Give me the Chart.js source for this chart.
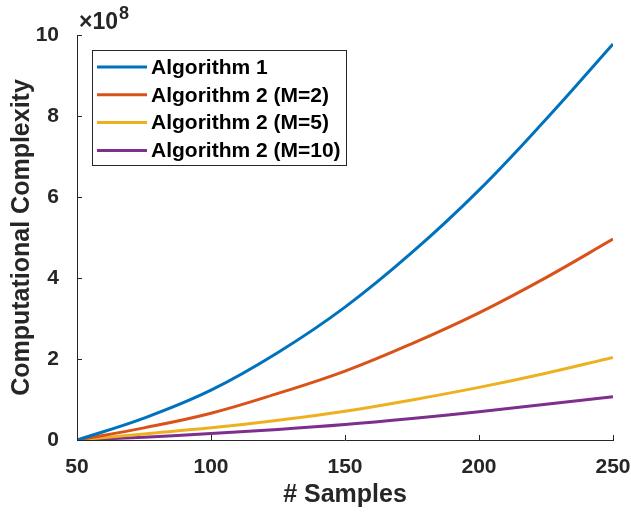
<!DOCTYPE html>
<html>
<head>
<meta charset="utf-8">
<script src="https://cdn.jsdelivr.net/npm/chart.js@4"></script>
<style>
  html, body { margin: 0; padding: 0; background: #fff; }
  #wrap { width: 631px; height: 514px; }
</style>
</head>
<body>
<div id="wrap"><canvas id="myChart"></canvas></div>
<script>
// Data (values in units of 1e8)
const samples = [50, 75, 100, 125, 150, 175, 200, 225, 250];
const alg1 = [0, 0.54, 1.23, 2.16, 3.28, 4.63, 6.17, 7.92, 9.78];
const alg2m2 = [0, 0.30, 0.66, 1.15, 1.70, 2.38, 3.14, 4.01, 4.96];
const alg2m5 = [0, 0.15, 0.30, 0.49, 0.71, 0.99, 1.30, 1.65, 2.04];
const alg2m10 = [0, 0.07, 0.16, 0.26, 0.38, 0.53, 0.70, 0.88, 1.07];
const seriesNames = ['Algorithm 1', 'Algorithm 2 (M=2)', 'Algorithm 2 (M=5)', 'Algorithm 2 (M=10)'];
const seriesColors = ['#0072BD', '#D95319', '#EDB120', '#7E2F8E'];

const axisColor = '#262626';
const font = 'Liberation Sans, Arial, Helvetica, sans-serif';

function points(vals) {
    return samples.map((s, i) => ({ x: s, y: vals[i] }));
}

// Inward ticks, x10^8 label and legend box
const extras = {
    id: 'extras',
    afterDraw(chart) {
        const ctx = chart.ctx;
        const xs = chart.scales.x, ys = chart.scales.y;
        const area = chart.chartArea;
        ctx.save();
        ctx.strokeStyle = axisColor;
        ctx.lineWidth = 1;
        ctx.beginPath();
        xs.ticks.forEach(t => {
            const px = Math.round(xs.getPixelForValue(t.value)) + 0.5;
            ctx.moveTo(px, area.bottom);
            ctx.lineTo(px, area.bottom - 5);
        });
        ys.ticks.forEach(t => {
            const py = Math.round(ys.getPixelForValue(t.value)) + 0.5;
            ctx.moveTo(area.left, py);
            ctx.lineTo(area.left + 5, py);
        });
        ctx.stroke();

        // exponent label
        ctx.fillStyle = axisColor;
        ctx.textBaseline = 'alphabetic';
        ctx.textAlign = 'left';
        ctx.font = 'bold 23px ' + font;
        ctx.fillText('\u00d710', area.left + 2, 29);
        const w = ctx.measureText('\u00d710').width;
        ctx.font = 'bold 18px ' + font;
        ctx.fillText('8', area.left + 2 + w + 1, 19);

        // legend
        const lx = 92.5, ly = 50.5, lw = 254, lh = 115;
        ctx.fillStyle = '#fff';
        ctx.fillRect(lx, ly, lw, lh);
        ctx.strokeStyle = axisColor;
        ctx.lineWidth = 1;
        ctx.strokeRect(lx, ly, lw, lh);
        ctx.font = 'bold 21px ' + font;
        ctx.textBaseline = 'middle';
        chart.data.datasets.forEach((ds, i) => {
            const y = 67 + i * 27.8;
            ctx.strokeStyle = ds.borderColor;
            ctx.lineWidth = 3;
            ctx.beginPath();
            ctx.moveTo(97, y);
            ctx.lineTo(147, y);
            ctx.stroke();
            ctx.fillStyle = '#000';
            ctx.fillText(ds.label, 151, y + 1);
        });
        ctx.restore();
    }
};

const data = [alg1, alg2m2, alg2m5, alg2m10];

const config = {
    type: 'line',
    data: {
        datasets: data.map((vals, i) => ({
            label: seriesNames[i],
            data: points(vals),
            borderColor: seriesColors[i],
            backgroundColor: seriesColors[i],
            borderWidth: 3,
            pointRadius: 0,
            tension: 0.4,
            fill: false
        }))
    },
    options: {
        responsive: true,
        maintainAspectRatio: false,
        animation: false,
        layout: { padding: { left: 0, right: 18, top: 35, bottom: 0 } },
        plugins: {
            legend: { display: false },
            tooltip: { enabled: false }
        },
        scales: {
            x: {
                type: 'linear',
                min: 50,
                max: 250,
                afterFit(scale) {
                    scale.height = 74;
                    scale.paddingLeft = 0;
                    scale.paddingRight = 0;
                },
                grid: { display: false },
                border: { display: true, color: axisColor, width: 1 },
                ticks: {
                    stepSize: 50,
                    padding: 7,
                    color: axisColor,
                    font: { family: font, size: 21, weight: 'bold' },
                    maxRotation: 0
                },
                title: {
                    display: true,
                    text: '# Samples',
                    color: axisColor,
                    font: { family: font, size: 25, weight: 'bold' },
                    padding: { top: 0, bottom: 4 }
                }
            },
            y: {
                min: 0,
                max: 10,
                afterFit(scale) {
                    scale.width = 77;
                    scale.paddingTop = 0;
                    scale.paddingBottom = 0;
                },
                grid: { display: false },
                border: { display: true, color: axisColor, width: 1 },
                ticks: {
                    stepSize: 2,
                    padding: 10,
                    color: axisColor,
                    font: { family: font, size: 21, weight: 'bold' }
                },
                title: {
                    display: true,
                    text: 'Computational Complexity',
                    color: axisColor,
                    font: { family: font, size: 25, weight: 'bold' },
                    padding: { top: 7, bottom: 0 }
                }
            }
        }
    },
    plugins: [extras]
};

new Chart(document.getElementById('myChart'), config);
</script>
</body>
</html>
